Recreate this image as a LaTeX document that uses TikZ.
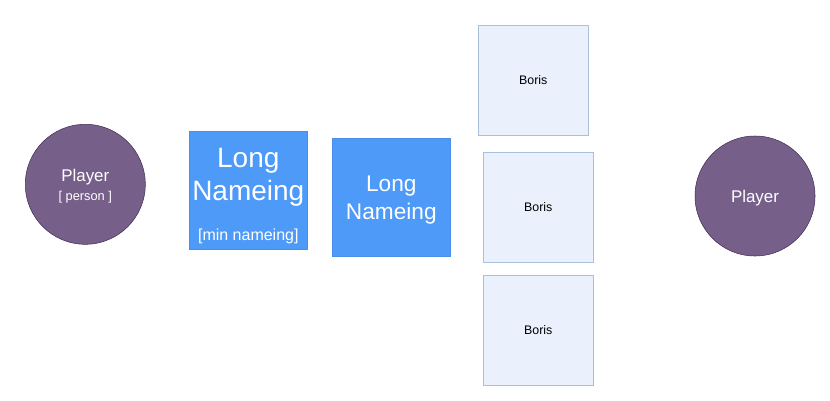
\documentclass[tikz,border=0pt]{standalone}
\usepackage{fontspec}
\setmainfont{Liberation Sans}
\definecolor{purp}{HTML}{76608A}
\definecolor{purpd}{HTML}{432D57}
\definecolor{blu}{HTML}{4D9AF8}
\definecolor{bluline}{HTML}{4A8EE6}
\definecolor{lfill}{HTML}{EBF1FC}
\definecolor{lline}{HTML}{A9C0DD}
\begin{document}
\begin{tikzpicture}[x=0.75pt,y=-0.75pt,
  person/.style={circle,draw=purpd,fill=purp,text=white,minimum size=90pt,inner sep=0pt,align=center},
  bluebox/.style={draw=bluline,fill=blu,text=white,minimum size=88.5pt,inner sep=0pt,align=center},
  borisbox/.style={draw=lline,fill=lfill,minimum size=82.5pt,inner sep=0pt,font=\fontsize{9.3}{11}\selectfont}]
\useasboundingbox (0,0) rectangle (830,400);
\node[person] (p1) at (85.3,184.3) {\fontsize{12.7}{14}\selectfont\rule{0pt}{11.5pt}Player\\[2.25pt]\fontsize{9.6}{14}\selectfont [ person ]};
\node[bluebox] (b1) at (248.3,190.2) {\fontsize{21}{24}\selectfont\rule{0pt}{23.5pt}Long\\[3.75pt]\fontsize{21}{24}\selectfont Nameing\\[16pt]\fontsize{12}{14}\selectfont [min nameing]};
\node[bluebox] (b2) at (391.3,197.2) {\fontsize{17}{21}\selectfont\rule{0pt}{16.2pt}Long\\[3.75pt]\fontsize{17}{21}\selectfont Nameing};
\node[borisbox] (r1) at (533.3,80) {Boris};
\node[borisbox] (r2) at (538.3,207) {Boris};
\node[borisbox] (r3) at (538.3,330) {Boris};
\node[person] (p2) at (755,196) {\fontsize{12.7}{15}\selectfont\rule{0pt}{12pt}Player};
\end{tikzpicture}
\end{document}
